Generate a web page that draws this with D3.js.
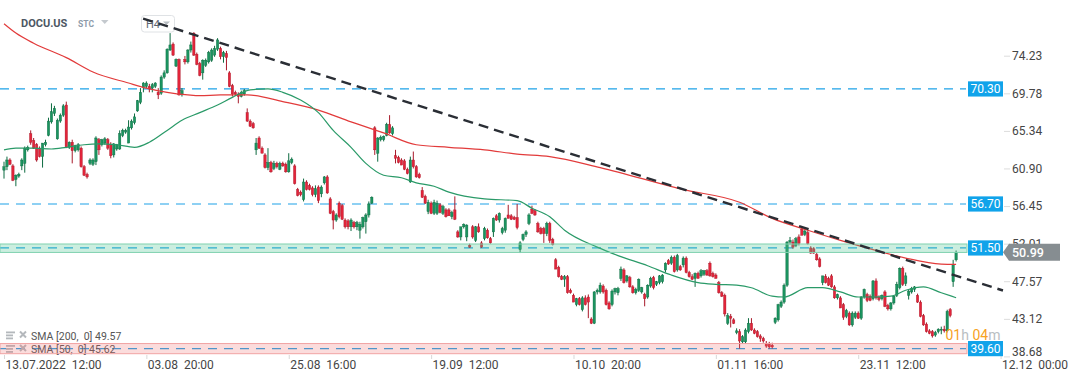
<!DOCTYPE html>
<html><head><meta charset="utf-8">
<script src="https://cdn.jsdelivr.net/npm/d3@7"></script>
<style>
html,body{margin:0;padding:0;background:#fff;}
svg{display:block;font-family:Roboto,"Noto Sans",sans-serif;}
</style></head><body>
<svg id="chart" width="1072" height="382"></svg>
<script>
// ---------- DATA ----------
const symbol = "DOCU.US";
const symbolType = "STC";
const interval = "H4";
const timeTickIdx = [0, 48, 96, 144, 192, 240, 288, 336];
const timeTickLabels = ["13.07.2022  12:00", "03.08  20:00", "25.08  16:00", "19.09  12:00",
                        "10.10  20:00", "01.11  16:00", "23.11  12:00", "12.12  00:00"];
const priceTicks = [74.23, 69.78, 65.34, 60.90, 56.45, 52.01, 47.57, 43.12, 38.68];
const levelValues = [70.30, 56.70, 51.50, 39.60];
const zoneCenters = [51.50, 39.60];
const zoneLow = [50.97, 39.00];
const zoneHigh = [51.97, 40.20];
const lastPrice = 50.99;
const smaNames = ["SMA [200,  0]", "SMA [50,  0]"];
const smaLast = [49.57, 45.62];
const countdown = ["01", "h", " 04", "m"];
// trend line anchors (candle index, price)
const trendIdx = [46.9, 336.8];
const trendVals = [78.62, 46.47];
// SMA 200
const sma200Idx = [0,4,10,21,30,42,48,55,62,66,73,82,94,106,117,128,139,150,162,173,184,201,229,248,259,271,282,293,304,316,321];
const sma200Vals = [78.0,76.9,75.7,74.0,72.3,71.0,70.4,69.9,69.6,69.5,69.6,69.6,68.8,67.8,66.4,65.1,63.7,63.4,63.1,62.6,62.3,61.0,58.4,56.9,55.0,53.6,52.4,51.3,50.3,49.6,49.57];
// SMA 50
const sma50Idx = [0,4,10,16,21,27,32,38,44,49,55,60,66,72,77,83,89,94,100,106,111,117,122,128,134,139,145,150,162,173,178,184,189,200,207,217,225,234,240,247,252,259,263,271,276,282,288,293,299,304,310,316,321];
const sma50Vals = [63.1,63.3,63.3,63.2,63.4,63.7,63.8,63.7,63.4,64.0,65.4,66.6,67.5,68.4,69.3,70.2,70.3,69.9,69.0,67.5,65.4,63.4,61.5,60.1,59.8,59.2,58.8,58.1,57.3,57.1,56.2,55.2,53.6,51.6,50.6,49.4,48.3,47.4,47.2,47.1,46.8,45.8,45.7,46.8,46.8,46.3,45.7,45.7,45.8,46.5,46.9,46.2,45.62];

// H4 candles [open, high, low, close]
const candlesJul = [
[60.7,61.7,59.7,61.1],[61.1,62.3,60.7,61.9],[61.9,62.1,61.3,61.4],[61.2,61.4,59.4,59.5],[59.6,60.2,58.8,60.1],
[60.0,60.4,59.8,60.2],[61.2,62.1,60.7,61.9],[61.5,63.5,60.4,63.3],[63.1,63.6,62.9,63.4],[65.0,65.4,63.7,64.0],
[64.2,64.5,63.2,63.3],[63.7,63.9,61.7,61.9],[63.3,63.5,62.2,62.3],[62.3,63.9,61.0,63.9],[63.7,64.3,63.5,64.0],
[64.8,66.9,64.7,66.5],[66.4,68.6,66.2,67.6],[67.4,68.3,67.1,68.0],[64.4,66.8,64.3,66.6],[66.5,67.4,66.3,67.2],
[67.2,68.5,67.0,68.3],[68.4,68.8,63.3,63.4],[63.4,64.1,63.2,64.0],[64.0,64.3,61.5,63.0],[63.0,63.7,62.8,63.6],
[63.1,63.9,62.9,63.7],[63.3,63.5,61.0,61.1],[61.1,61.3,60.0,60.1],[60.2,60.4,59.7,59.9],[61.5,62.1,61.3,61.9],
[61.4,62.1,61.2,61.9],[61.7,64.7,61.3,64.5],[64.3,64.5,62.5,63.1],[63.7,64.4,63.5,64.3],[63.9,64.6,63.7,64.4],
[64.3,64.5,63.1,63.3],[63.7,64.0,62.1,62.4],[62.5,63.9,62.2,63.8],[63.2,63.8,63.0,63.7],[63.2,65.4,63.1,65.0],
[64.8,65.6,64.6,65.4],[65.2,65.6,65.0,65.4],[63.9,66.6,63.9,65.8],[65.7,66.7,65.5,66.5],[66.3,67.4,66.1,67.0],
[67.7,69.0,67.6,68.9],[68.7,70.4,68.5,69.9],[70.5,71.1,69.9,71.0]];
const candlesAug = [
[70.6,71.2,70.4,71.0],[70.6,70.9,69.9,70.3],[70.4,71.0,69.9,70.8],[70.6,71.1,70.4,71.0],[69.9,70.4,69.1,69.6],
[69.8,71.9,69.6,71.7],[71.7,72.5,71.5,72.2],[72.2,75.1,72.1,75.0],[74.9,76.9,74.8,75.5],[75.6,75.8,74.2,74.3],
[73.0,73.9,72.9,73.8],[73.8,73.9,69.5,69.6],[69.6,70.4,69.4,70.1],[73.8,74.2,73.2,73.5],[73.5,75.0,73.3,74.9],
[74.9,75.9,74.6,75.5],[76.9,77.0,74.2,74.3],[74.4,74.6,73.1,73.2],[73.3,73.5,71.8,71.9],[72.2,73.8,71.4,73.7],
[73.1,73.9,72.9,73.7],[73.5,74.8,73.3,74.6],[73.7,75.1,73.5,74.9],[74.3,75.4,74.1,75.1],[75.0,76.3,74.8,76.1],
[75.1,75.3,73.8,74.1],[74.1,74.8,73.4,74.6],[74.5,74.8,72.5,74.0],[72.2,72.4,70.5,70.6],[70.7,70.9,69.4,69.7],
[69.9,70.1,69.5,69.7],[69.7,69.9,68.6,69.4],[69.4,70.1,69.3,69.9],[69.7,70.3,69.5,70.1],[67.5,68.0,66.4,66.5],
[66.5,66.7,65.8,65.9],[66.2,66.4,65.6,65.7],[63.1,64.5,62.5,63.9],[64.5,64.7,63.2,63.3],[63.3,63.5,62.7,62.7],
[62.5,62.7,60.9,61.0],[61.0,63.3,60.7,61.6],[61.6,61.8,60.4,60.5],[60.9,61.8,60.7,61.5],[61.5,61.7,60.9,61.1],
[60.8,61.7,60.7,61.5],[61.5,61.7,61.1,61.2],[61.4,61.6,60.4,60.5]];
const candlesSep = [
[60.5,62.7,60.4,61.8],[61.6,62.2,61.4,62.0],[61.2,61.4,59.0,59.1],[58.4,58.6,57.6,57.7],[58.1,58.3,57.6,57.8],
[57.2,59.7,57.0,59.3],[59.3,59.5,58.3,58.4],[58.9,59.1,58.3,58.4],[58.6,58.8,57.6,57.8],[57.8,58.9,57.5,58.5],
[58.7,58.9,56.8,57.1],[57.9,58.9,57.5,58.7],[59.2,60.0,59.0,59.9],[59.9,60.1,57.9,58.0],[57.3,57.5,55.5,55.6],
[55.8,56.0,53.7,54.8],[54.8,55.6,54.6,55.4],[56.8,57.0,55.0,55.2],[56.5,56.7,54.8,54.9],[54.8,55.0,53.8,54.0],
[54.7,54.9,53.7,54.0],[54.0,55.0,53.5,54.8],[54.5,54.7,53.8,54.0],[54.0,54.7,53.6,54.5],[53.6,54.6,52.6,54.3],
[54.0,55.2,53.8,55.1],[54.6,55.6,53.2,55.4],[55.4,57.0,55.1,56.7],[56.8,57.6,56.7,57.5],[65.7,65.9,62.5,63.1],
[62.7,64.6,61.7,64.5],[64.3,64.8,64.1,64.6],[64.3,64.8,64.1,64.7],[64.8,66.3,64.7,66.1],[66.1,67.2,65.0,65.1],
[65.0,65.9,64.8,65.7],[62.4,63.1,61.5,62.1],[62.2,62.4,61.5,61.6],[61.9,62.1,61.3,61.3],[61.8,62.0,60.7,60.8],
[60.8,61.0,60.2,60.3],[59.3,62.3,59.2,61.9],[61.9,62.9,60.9,61.1],[61.1,61.3,59.8,59.9],[60.2,60.4,59.7,59.8],
[58.3,58.7,57.4,57.5],[57.6,57.8,56.7,56.8],[55.8,57.2,55.5,56.9]];
const candlesSepOct = [
[56.8,57.0,55.5,55.6],[55.6,57.2,55.4,56.9],[55.6,57.1,55.4,56.8],[56.6,56.8,55.6,55.7],[55.6,56.6,55.4,56.4],
[56.0,56.2,55.1,55.2],[56.0,56.2,55.3,55.3],[55.2,55.9,54.9,55.7],[56.0,57.6,54.8,54.9],[53.4,53.6,52.7,52.8],
[52.8,54.0,52.4,54.0],[54.0,54.4,53.8,54.3],[52.8,54.3,52.3,54.2],[51.8,52.0,51.5,51.6],[54.0,54.2,52.6,52.8],
[52.4,54.1,52.2,54.0],[54.0,54.4,53.3,53.4],[52.1,52.3,51.5,51.6],[52.6,54.0,52.4,53.8],[53.6,53.8,52.6,52.7],
[52.6,52.8,52.0,52.1],[53.4,55.1,52.8,55.0],[55.3,55.5,54.7,54.8],[54.8,55.7,54.5,55.6],[53.3,54.0,53.1,53.8],
[53.6,55.1,53.3,55.0],[55.4,56.6,55.0,55.0],[55.3,55.5,54.8,54.9],[55.1,55.3,54.8,54.9],[55.1,56.7,53.7,53.9],
[51.3,52.3,50.9,52.1],[52.5,53.2,52.3,53.1],[53.1,53.6,52.8,53.4],[54.4,55.6,54.2,55.4],[56.1,56.5,55.5,55.6],
[55.9,56.1,55.3,55.4],[54.4,54.6,53.3,53.4],[53.8,54.0,53.1,53.2],[53.8,54.0,52.1,53.2],[53.2,54.6,52.9,54.4],
[54.4,54.6,52.1,52.4],[52.5,52.7,51.8,51.9],[50.1,50.3,49.0,49.0],[49.2,49.4,48.0,48.1],[48.1,48.3,47.7,47.8],
[47.8,48.3,46.9,48.1],[48.1,48.3,46.1,46.2],[46.5,46.7,46.1,46.2]];
const candlesOct = [
[45.9,46.1,45.1,45.1],[44.8,45.6,44.6,45.5],[45.5,45.7,44.7,44.8],[44.2,45.8,44.0,45.6],[45.6,45.9,44.7,44.8],
[45.7,46.0,43.2,45.1],[43.1,43.3,42.5,42.6],[42.6,46.4,42.5,46.3],[46.3,46.7,46.0,46.5],[46.3,47.4,46.1,47.1],
[47.0,47.2,46.1,46.3],[46.5,46.7,44.7,44.8],[45.0,45.2,44.2,44.3],[44.8,46.6,44.6,46.4],[46.3,46.8,46.0,46.7],
[46.2,46.9,45.9,46.7],[47.9,49.3,47.6,49.0],[48.9,49.1,47.3,47.4],[47.6,48.3,47.4,48.2],[48.0,48.2,46.8,46.9],
[46.9,47.1,46.1,46.2],[46.2,46.8,46.0,46.6],[46.5,47.9,46.3,47.8],[46.3,46.9,46.1,46.8],[46.0,46.2,44.6,45.5],
[45.7,47.2,45.5,47.1],[47.0,48.1,46.8,47.9],[48.0,48.2,46.6,46.8],[47.2,47.6,47.0,47.5],[47.4,48.3,47.2,48.2],
[47.5,48.4,47.3,48.3],[48.9,49.8,48.6,49.7],[50.0,50.2,49.5,49.6],[49.7,50.6,49.5,50.4],[50.4,50.6,48.6,48.7],
[48.9,50.8,48.7,50.6],[49.3,49.5,48.8,48.9],[49.5,50.5,49.2,50.3],[50.3,50.5,48.5,48.6],[48.6,48.8,48.0,48.1],
[48.1,48.4,47.7,47.8],[47.9,48.6,46.9,48.5],[48.5,48.7,47.9,47.9],[48.2,49.0,48.0,48.8],[48.4,48.9,48.2,48.8],
[48.8,49.0,48.2,48.3],[49.7,49.9,48.1,48.2],[48.5,48.7,48.0,48.1]];
const candlesNov = [
[48.3,48.5,47.9,47.9],[47.4,47.6,46.1,46.2],[46.2,46.4,45.7,45.8],[45.9,46.1,43.4,43.7],[42.6,43.8,42.4,43.5],
[43.4,43.7,42.1,43.2],[43.0,43.2,42.5,42.6],[41.5,42.0,41.3,41.7],[41.6,41.9,39.6,40.5],[40.4,41.2,40.2,41.0],
[40.4,42.0,40.2,41.8],[41.6,43.2,41.4,42.6],[42.6,43.2,41.7,41.8],[41.8,42.0,41.3,41.4],[41.6,41.8,40.9,41.0],
[41.1,41.3,40.4,40.8],[40.8,41.0,40.3,40.5],[40.2,40.5,39.7,39.9],[40.1,40.4,39.6,39.8],[40.0,40.3,39.6,39.8],
[42.7,43.3,42.5,43.2],[43.0,44.9,42.8,44.8],[44.6,45.3,44.4,45.1],[45.1,47.3,44.9,47.1],[47.1,52.3,46.9,52.2],
[52.2,52.8,51.9,52.4],[52.2,52.5,51.4,51.6],[51.8,52.8,51.6,52.6],[52.8,53.1,51.8,52.0],[53.7,54.1,53.0,53.0],
[53.1,53.7,52.9,53.5],[53.3,53.6,51.9,52.0],[51.5,51.7,50.8,50.9],[51.4,51.6,50.8,50.9],[50.7,50.9,50.0,50.1],
[50.2,50.4,49.2,49.3],[47.4,48.2,47.1,48.2],[48.1,48.4,47.3,47.4],[47.9,48.1,47.0,47.1],[48.2,48.4,46.8,46.9],
[46.9,47.1,45.5,45.6],[45.6,46.1,45.4,46.0],[45.6,45.8,44.4,44.4],[44.8,45.0,43.0,43.3],[43.4,44.3,43.2,44.1],
[43.8,44.0,42.3,42.4],[42.4,44.0,42.2,43.8],[43.3,44.0,43.1,43.8]];
const candlesDec = [
[43.8,44.0,43.1,43.2],[43.2,45.8,43.0,45.7],[45.7,46.7,45.5,46.6],[46.0,46.2,45.1,45.3],[45.8,46.0,45.2,45.3],
[45.5,47.7,45.3,47.6],[47.6,47.9,45.4,45.6],[45.7,45.9,45.2,45.4],[45.5,46.0,45.3,45.9],[46.3,46.5,44.5,44.6],
[44.7,44.9,44.1,44.3],[44.3,45.1,44.1,45.0],[45.0,45.9,44.8,45.8],[45.9,47.5,45.7,47.2],[46.8,49.2,46.6,49.1],
[49.1,49.3,47.0,47.2],[47.3,48.6,47.0,48.2],[45.9,46.6,45.4,46.4],[46.3,46.9,46.1,46.7],[46.6,47.0,46.3,46.9],
[45.9,46.1,45.0,45.1],[45.1,45.3,43.3,43.4],[43.5,43.7,42.3,42.4],[42.5,42.7,41.5,41.6],[41.7,41.9,41.3,41.4],
[41.6,41.8,40.9,41.1],[41.2,41.7,41.0,41.5],[41.6,42.0,41.4,41.9],[41.8,42.2,41.3,41.9],[41.9,42.3,41.5,41.7],
[41.7,44.2,41.5,44.0],[44.2,44.4,43.3,43.5],[47.5,50.1,46.9,49.5],[50.1,51.2,49.9,50.99]];

// ---------- STYLE ----------
const FONT = "Roboto, 'Noto Sans', sans-serif";
const upFill = "#1b9460", upLine = "#0d6b40";
const dnFill = "#e3243a", dnLine = "#a8192a";
const blue = "#1ea2e8";

// ---------- SCALES ----------
const x = d3.scaleLinear().domain([0, 336]).range([4, 1000.6]);
const y = d3.scaleLinear().domain([38.68, 74.23]).range([356.4, 55.7]);

const svg = d3.select("#chart");
svg.append("rect").attr("width", 1072).attr("height", 382).attr("fill", "#fff");

// ---------- LEVEL LINES ----------
const lv = svg.append("g");
lv.selectAll("line").data(levelValues).join("line")
  .attr("x1", 0).attr("x2", 966)
  .attr("y1", d => y(d)).attr("y2", d => y(d))
  .attr("stroke", blue).attr("stroke-width", 1.2)
  .attr("stroke-dasharray", "9,7");

// ---------- CANDLES ----------
const candles = [].concat(candlesJul, candlesAug, candlesSep, candlesSepOct, candlesOct, candlesNov, candlesDec)
  .map((d, i) => ({ i, o: d[0], h: d[1], l: d[2], c: d[3] }));
const cg = svg.append("g");
cg.selectAll("line").data(candles).join("line")
  .attr("x1", d => x(d.i)).attr("x2", d => x(d.i))
  .attr("y1", d => y(d.h)).attr("y2", d => y(d.l))
  .attr("stroke", d => d.c >= d.o ? upLine : dnLine).attr("stroke-width", 1);
cg.selectAll("rect").data(candles).join("rect")
  .attr("x", d => x(d.i) - 1.2).attr("width", 2.4)
  .attr("y", d => y(Math.max(d.o, d.c)))
  .attr("height", d => Math.max(1, Math.abs(y(d.o) - y(d.c))))
  .attr("fill", d => d.c >= d.o ? upFill : dnFill)
  .attr("stroke", d => d.c >= d.o ? upLine : dnLine).attr("stroke-width", 0.4);

// ---------- SMA LINES ----------
const smaLine = d3.line().x(d => x(d[0])).y(d => y(d[1])).curve(d3.curveMonotoneX);
svg.append("path").datum(sma200Idx.map((v, k) => [v, sma200Vals[k]]))
  .attr("d", smaLine).attr("fill", "none").attr("stroke", "#e23b3b").attr("stroke-width", 1.2);
svg.append("path").datum(sma50Idx.map((v, k) => [v, sma50Vals[k]]))
  .attr("d", smaLine).attr("fill", "none").attr("stroke", "#2a9a68").attr("stroke-width", 1.2);

// ---------- LEGEND ----------
const lg = svg.append("g").attr("font-family", FONT).attr("font-size", 10.5);
const legendY = [339.5, 353];
smaNames.forEach((n, k) => {
  const yy = legendY[k];
  [0, 3, 6].forEach(o => lg.append("rect").attr("x", 6).attr("y", yy - 8 + o).attr("width", o === 0 ? 9 : 7).attr("height", 1.8).attr("fill", "#b4b8bc"));
  lg.append("path").attr("d", `M20,${yy-8} L26,${yy-2} M26,${yy-8} L20,${yy-2}`).attr("stroke", "#b4b8bc").attr("stroke-width", 2);
  lg.append("text").attr("x", 31).attr("y", yy).attr("fill", "#555").style("white-space", "pre")
    .text(n + " " + d3.format(".2f")(smaLast[k]));
});

// ---------- ZONES ----------
const zoneFill = ["rgba(82,200,150,0.30)", "rgba(238,110,110,0.24)"];
const zoneStroke = ["#82d2b0", "#f1a3a3"];
svg.append("g").selectAll("rect").data(zoneCenters).join("rect")
  .attr("x", 0).attr("width", 967)
  .attr("y", (d, k) => y(zoneHigh[k])).attr("height", (d, k) => y(zoneLow[k]) - y(zoneHigh[k]))
  .attr("fill", (d, k) => zoneFill[k]).attr("stroke", (d, k) => zoneStroke[k]).attr("stroke-width", 1);

// ---------- HEADER ----------
const hd = svg.append("g").attr("font-family", FONT);
hd.append("text").attr("x", 21).attr("y", 27).attr("font-size", 11).attr("font-weight", 700).attr("fill", "#4d5864").text(symbol);
hd.append("text").attr("x", 78).attr("y", 26.5).attr("font-size", 8.5).attr("font-weight", 700).attr("fill", "#8e9baa").text(symbolType);
hd.append("path").attr("d", "M101,20 L108.5,20 L104.75,24 Z").attr("fill", "#c4c9ce");
hd.append("rect").attr("x", 141.5).attr("y", 15.5).attr("width", 33).attr("height", 16.5).attr("rx", 3)
  .attr("fill", "#fff").attr("stroke", "#dfe2e5");
hd.append("text").attr("x", 146).attr("y", 27.5).attr("font-size", 11).attr("fill", "#5a6470").text(interval);
hd.append("path").attr("d", "M163,21.5 L170,21.5 L166.5,25 Z").attr("fill", "#b8bdc2");

// ---------- TREND LINE ----------
svg.append("path").datum(trendIdx.map((v, k) => [v, trendVals[k]]))
  .attr("d", d3.line().x(d => x(d[0])).y(d => y(d[1])))
  .attr("stroke", "#2a2e35").attr("stroke-width", 2.4).attr("stroke-dasharray", "10,6").attr("fill", "none");

// ---------- PRICE AXIS ----------
const ya = svg.append("g").attr("transform", "translate(1004,0)")
  .call(d3.axisRight(y).tickValues(priceTicks).tickSize(6).tickPadding(2).tickFormat(d3.format(".2f")));
ya.attr("font-family", FONT).attr("font-size", 12);
ya.select(".domain").remove();
ya.selectAll(".tick line").attr("stroke", "#dcdcdc");
ya.selectAll(".tick text").attr("fill", "#454545").attr("dy", d => d === 38.68 ? "-0.05em" : "0.32em");

// ---------- TIME AXIS ----------
const xa = svg.append("g").attr("transform", "translate(0,355)")
  .call(d3.axisBottom(x).tickValues(timeTickIdx).tickSize(4).tickPadding(1).tickFormat((d, k) => timeTickLabels[k]));
xa.attr("font-family", FONT).attr("font-size", 12);
xa.select(".domain").remove();
xa.selectAll(".tick line").attr("stroke", "#d8d8d8");
xa.selectAll(".tick text").attr("fill", "#454545").attr("text-anchor", "start").attr("x", 1).style("white-space", "pre");

// ---------- LEVEL LABELS ----------
const lb = svg.append("g").attr("font-family", FONT);
levelValues.forEach(v => {
  lb.append("rect").attr("x", 968).attr("y", y(v) - 7.6).attr("width", 35).attr("height", 15.2).attr("fill", "#10a3ea");
  lb.append("text").attr("x", 985.5).attr("y", y(v)).attr("dy", "0.35em").attr("text-anchor", "middle")
    .attr("font-size", 12).attr("fill", "#fff").text(d3.format(".2f")(v));
});

// ---------- LAST PRICE ----------
const yc = y(lastPrice);
svg.append("path").attr("d", `M1003,${yc} L1009,${yc-8.5} L1060,${yc-8.5} L1060,${yc+8.5} L1009,${yc+8.5} Z`).attr("fill", "#868d91");
svg.append("text").attr("x", 1012).attr("y", yc).attr("dy", "0.36em").attr("font-family", FONT)
  .attr("font-size", 12.5).attr("font-weight", 500).attr("fill", "#fff").text(d3.format(".2f")(lastPrice));

// ---------- COUNTDOWN ----------
const cd = svg.append("text").attr("x", 945.5).attr("y", 339.8).attr("font-family", FONT).attr("font-size", 14).style("white-space", "pre");
countdown.forEach((s, k) => cd.append("tspan").attr("fill", k % 2 === 0 ? "#f7a224" : "#b9bec2").text(s));
</script>
</body></html>
